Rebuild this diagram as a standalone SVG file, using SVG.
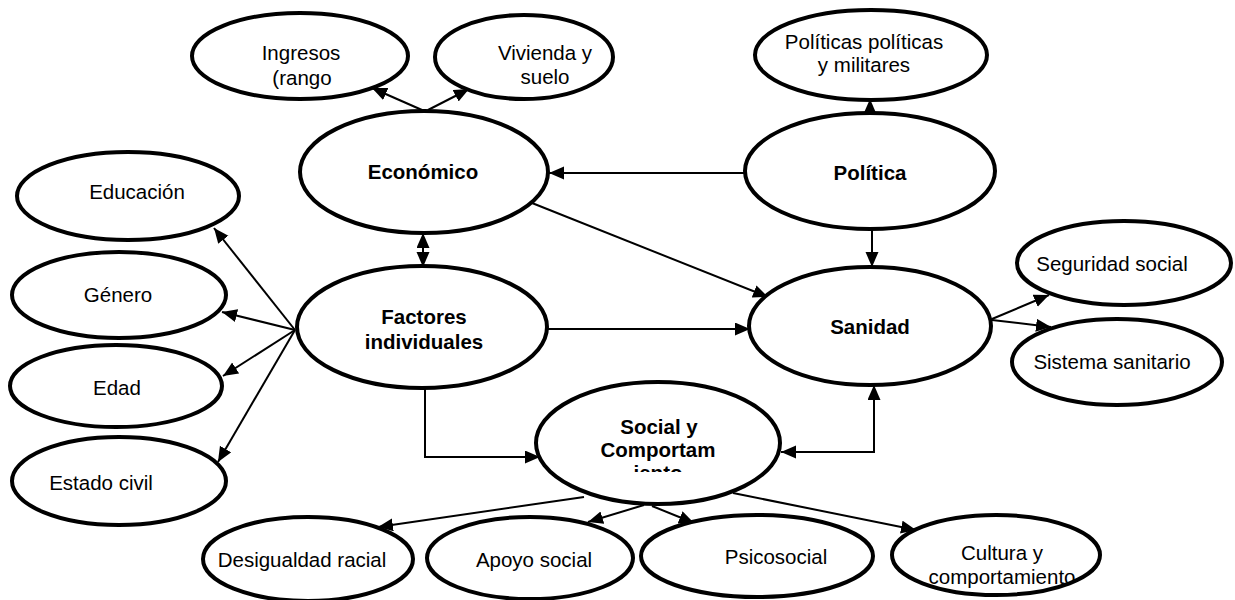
<svg xmlns="http://www.w3.org/2000/svg" width="1235" height="600" viewBox="0 0 1235 600">
<style>
.n{fill:#fff;stroke:#000;stroke-width:4}
.t{font-family:"Liberation Sans",Arial,sans-serif;font-size:20.5px;fill:#000;text-anchor:middle}
.b{font-weight:bold}
.c{fill:none;stroke:#000;stroke-width:2}
</style>
<defs>
<marker id="ah" markerUnits="userSpaceOnUse" markerWidth="16" markerHeight="14" refX="15" refY="6.5" orient="auto-start-reverse" viewBox="0 0 16 14">
<path d="M0,0 L15,6.5 L0,13 z" fill="#000"/>
</marker>
<clipPath id="clipS"><rect x="500" y="380" width="320" height="92"/></clipPath>
</defs>
<rect width="1235" height="600" fill="#fff"/>
<g id="connectors">
<line class="c" x1="422" y1="110" x2="372" y2="88" marker-end="url(#ah)"/>
<line class="c" x1="428" y1="110" x2="469" y2="89" marker-end="url(#ah)"/>
<line class="c" x1="745" y1="173" x2="549" y2="173" marker-end="url(#ah)"/>
<line class="c" x1="870" y1="113" x2="870" y2="99" marker-end="url(#ah)"/>
<line class="c" x1="872" y1="229" x2="872" y2="267" marker-end="url(#ah)"/>
<line class="c" x1="423" y1="233" x2="423" y2="267" marker-start="url(#ah)" marker-end="url(#ah)"/>
<line class="c" x1="532" y1="203" x2="768" y2="297" marker-end="url(#ah)"/>
<line class="c" x1="547" y1="329" x2="750" y2="329" marker-end="url(#ah)"/>
<polyline class="c" points="425,388 425,457 540,457" marker-end="url(#ah)"/>
<polyline class="c" points="781,452 874,452 874,385" marker-start="url(#ah)" marker-end="url(#ah)"/>
<line class="c" x1="992" y1="319" x2="1049" y2="295" marker-end="url(#ah)"/>
<line class="c" x1="992" y1="320" x2="1051" y2="327" marker-end="url(#ah)"/>
<line class="c" x1="295" y1="330" x2="214" y2="228" marker-end="url(#ah)"/>
<line class="c" x1="295" y1="330" x2="222" y2="312" marker-end="url(#ah)"/>
<line class="c" x1="295" y1="330" x2="223" y2="376" marker-end="url(#ah)"/>
<line class="c" x1="295" y1="330" x2="218" y2="462" marker-end="url(#ah)"/>
<line class="c" x1="584" y1="497" x2="378" y2="527" marker-end="url(#ah)"/>
<line class="c" x1="644" y1="505" x2="588" y2="522" marker-end="url(#ah)"/>
<line class="c" x1="652" y1="506" x2="694" y2="523" marker-end="url(#ah)"/>
<line class="c" x1="733" y1="493" x2="916" y2="530" marker-end="url(#ah)"/>
</g>
<g id="ingresos"><ellipse class="n" cx="300" cy="56" rx="108" ry="43"/><text class="t" x="301" y="60">Ingresos</text><text class="t" x="302" y="85">(rango</text></g>
<g id="vivienda"><ellipse class="n" cx="524" cy="57" rx="89" ry="42"/><text class="t" x="545" y="60">Vivienda y</text><text class="t" x="545" y="84">suelo</text></g>
<g id="economico"><ellipse class="n" cx="424" cy="172" rx="124" ry="61"/><text class="t b" x="423" y="179">Económico</text></g>
<g id="politicas"><ellipse class="n" cx="871" cy="55" rx="116" ry="45"/><text class="t" x="864" y="49">Políticas políticas</text><text class="t" x="864" y="72">y militares</text></g>
<g id="politica"><ellipse class="n" cx="870" cy="171" rx="125" ry="58"/><text class="t b" x="870" y="180">Política</text></g>
<g id="seguridad"><ellipse class="n" cx="1124" cy="263" rx="107" ry="42"/><text class="t" x="1112" y="271">Seguridad social</text></g>
<g id="sanidad"><ellipse class="n" cx="870" cy="326" rx="121" ry="59"/><text class="t b" x="870" y="334">Sanidad</text></g>
<g id="sistema"><ellipse class="n" cx="1117" cy="362" rx="105" ry="43"/><text class="t" x="1112" y="369">Sistema sanitario</text></g>
<g id="educacion"><ellipse class="n" cx="128" cy="196" rx="111" ry="44"/><text class="t" x="137" y="199">Educación</text></g>
<g id="genero"><ellipse class="n" cx="119" cy="295" rx="107" ry="43"/><text class="t" x="118" y="302">Género</text></g>
<g id="edad"><ellipse class="n" cx="116" cy="386" rx="106" ry="41"/><text class="t" x="117" y="395">Edad</text></g>
<g id="estado"><ellipse class="n" cx="119" cy="481" rx="107" ry="44"/><text class="t" x="101" y="490">Estado civil</text></g>
<g id="factores"><ellipse class="n" cx="422" cy="327" rx="125" ry="61"/><text class="t b" x="424" y="324">Factores</text><text class="t b" x="424" y="349">individuales</text></g>
<g id="social"><ellipse class="n" cx="658" cy="443" rx="122" ry="61"/><g clip-path="url(#clipS)"><text class="t b" x="659" y="434">Social y</text><text class="t b" x="658" y="457">Comportam</text><text class="t b" x="658" y="480">iento</text></g></g>
<g id="desigualdad"><ellipse class="n" cx="308" cy="559" rx="105" ry="42"/><text class="t" x="302" y="567">Desigualdad racial</text></g>
<g id="apoyo"><ellipse class="n" cx="530" cy="558" rx="103" ry="41"/><text class="t" x="534" y="567">Apoyo social</text></g>
<g id="psicosocial"><ellipse class="n" cx="757" cy="556" rx="116" ry="41"/><text class="t" x="776" y="564">Psicosocial</text></g>
<g id="cultura"><ellipse class="n" cx="996" cy="555" rx="104" ry="40"/><text class="t" x="1002" y="560">Cultura y</text><text class="t" x="1002" y="584">comportamiento</text></g>
</svg>
